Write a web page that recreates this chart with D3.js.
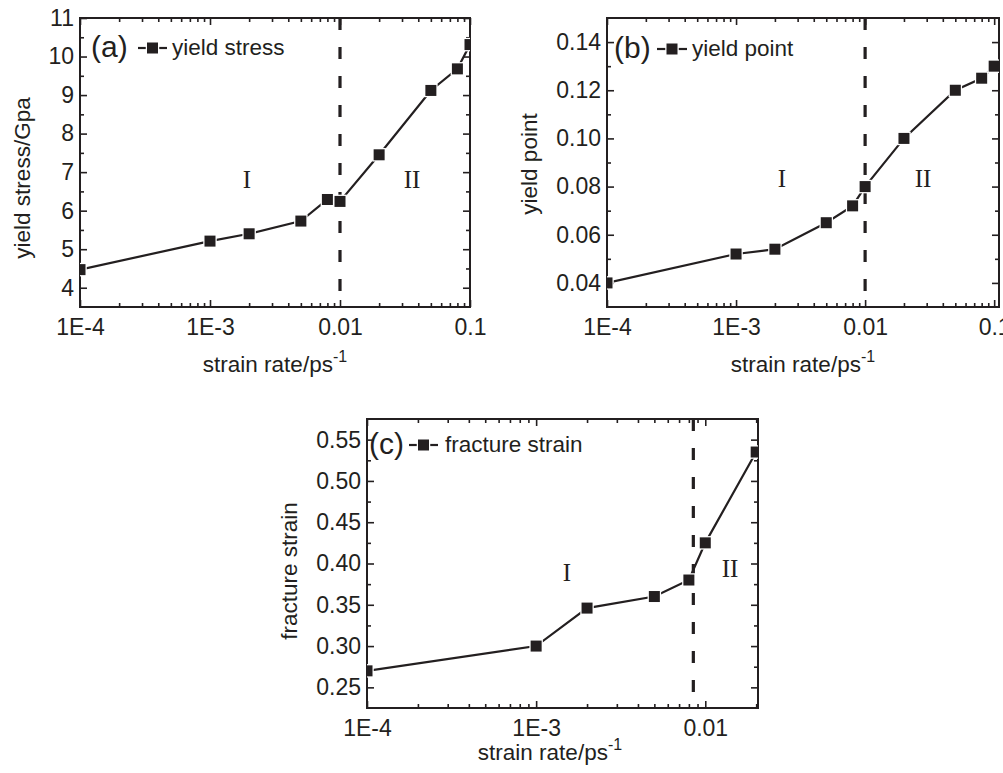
<!DOCTYPE html>
<html>
<head>
<meta charset="utf-8">
<script src="https://cdn.jsdelivr.net/npm/d3@7"></script>
<style>
  body { margin: 0; background: #fff; }
  svg { display: block; }
  text { font-family: "Liberation Sans", Arial, sans-serif; fill: #231f20; }
  .roman { font-family: "Liberation Serif", "Times New Roman", serif; }
</style>
</head>
<body>
<script>
// strain rates (1/ps)
var ratesAB = [1e-4, 1e-3, 2e-3, 5e-3, 8e-3, 0.01, 0.02, 0.05, 0.08, 0.1];
var ratesC = [1e-4, 1e-3, 2e-3, 5e-3, 8e-3, 0.01, 0.02];

// series
var yieldStress = [4.47, 5.21, 5.40, 5.73, 6.29, 6.24, 7.45, 9.12, 9.68, 10.31];
var yieldPoint = [0.040, 0.052, 0.054, 0.065, 0.072, 0.080, 0.100, 0.120, 0.125, 0.130];
var fractureStrain = [0.270, 0.300, 0.346, 0.360, 0.380, 0.425, 0.535];

// tick labels
var xTickVals = [1e-4, 1e-3, 0.01, 0.1];
var xTickText = ["1E-4", "1E-3", "0.01", "0.1"];
var yTicksA = [4, 5, 6, 7, 8, 9, 10, 11];
var yTicksB = [0.04, 0.06, 0.08, 0.10, 0.12, 0.14];
var yTicksC = [0.25, 0.30, 0.35, 0.40, 0.45, 0.50, 0.55];

// region boundaries (vertical dashed line)
var boundaryAB = 0.01;
var boundaryC = 0.0085;

var ink = "#231f20";

var svg = d3.select("body").append("svg")
  .attr("width", 1003)
  .attr("height", 773);

svg.append("rect").attr("width", 1003).attr("height", 773).attr("fill", "#fff");

function minorLog(domain) {
  var out = [];
  for (var e = -5; e <= 0; e++) {
    for (var m = 2; m <= 9; m++) {
      var v = m * Math.pow(10, e);
      if (v >= domain[0] && v <= domain[1] * 1.0001) out.push(v);
    }
  }
  return out;
}

function drawPanel(p) {
  var W = p.right - p.left, H = p.bottom - p.top;
  var g = svg.append("g").attr("transform", "translate(" + p.left + "," + p.top + ")");

  var x = d3.scaleLog().domain(p.xDomain).range([0, W]);
  var y = d3.scaleLinear().domain(p.yDomain).range([H, 0]);

  var clipId = "clip-" + p.tag;
  g.append("clipPath").attr("id", clipId)
    .append("rect").attr("width", W).attr("height", H);

  var majX = xTickVals.filter(function (v) { return v >= p.xDomain[0] && v <= p.xDomain[1] * 1.0001; });
  var minX = minorLog(p.xDomain);
  var minY = [];
  for (var k = 0; k < p.yTicks.length; k++) {
    var v = p.yTicks[k] - p.yStep / 2;
    if (v > p.yDomain[0]) minY.push(v);
  }
  var last = p.yTicks[p.yTicks.length - 1] + p.yStep / 2;
  if (last < p.yDomain[1]) minY.push(last);

  function fmtX(d) { return xTickText[xTickVals.indexOf(d)]; }

  // bottom axis
  g.append("g").attr("transform", "translate(0," + H + ")")
    .call(d3.axisBottom(x).tickValues(majX).tickSize(-7).tickPadding(12).tickFormat(fmtX));
  g.append("g").attr("transform", "translate(0," + H + ")")
    .call(d3.axisBottom(x).tickValues(minX).tickSize(-4).tickFormat(""));
  // top axis
  g.append("g").call(d3.axisTop(x).tickValues(majX).tickSize(-7).tickFormat(""));
  g.append("g").call(d3.axisTop(x).tickValues(minX).tickSize(-4).tickFormat(""));
  // left axis
  g.append("g")
    .call(d3.axisLeft(y).tickValues(p.yTicks).tickSize(-7).tickPadding(6).tickFormat(p.yFmt));
  g.append("g").call(d3.axisLeft(y).tickValues(minY).tickSize(-4).tickFormat(""));
  // right axis
  g.append("g").attr("transform", "translate(" + W + ",0)")
    .call(d3.axisRight(y).tickValues(p.yTicks).tickSize(-7).tickFormat(""));
  g.append("g").attr("transform", "translate(" + W + ",0)")
    .call(d3.axisRight(y).tickValues(minY).tickSize(-4).tickFormat(""));

  g.selectAll(".domain").remove();
  g.selectAll(".tick line").attr("stroke", ink).attr("stroke-width", 1.6);
  g.selectAll(".tick text").attr("font-size", 23).attr("fill", ink)
    .attr("font-family", "Liberation Sans, Arial, sans-serif");

  // dashed boundary
  g.append("line")
    .attr("x1", x(p.boundary)).attr("x2", x(p.boundary))
    .attr("y1", 0).attr("y2", H)
    .attr("stroke", ink).attr("stroke-width", 3.2)
    .attr("stroke-dasharray", "12,17");

  // box
  g.append("rect").attr("width", W).attr("height", H)
    .attr("fill", "none").attr("stroke", ink).attr("stroke-width", 2);

  var pts = p.rates.map(function (r, i) { return { r: r, v: p.values[i] }; });
  var plot = g.append("g").attr("clip-path", "url(#" + clipId + ")");

  plot.append("path").datum(pts)
    .attr("fill", "none").attr("stroke", ink).attr("stroke-width", 2.2)
    .attr("d", d3.line().x(function (d) { return x(d.r); }).y(function (d) { return y(d.v); }));

  var s = 11;
  plot.selectAll("rect.mk").data(pts).enter().append("rect")
    .attr("class", "mk")
    .attr("x", function (d) { return x(d.r) - s / 2; })
    .attr("y", function (d) { return y(d.v) - s / 2; })
    .attr("width", s).attr("height", s)
    .attr("fill", ink).attr("stroke", "#fff").attr("stroke-width", 2.5)
    .attr("paint-order", "stroke");

  // legend
  var lg = p.legend;
  g.append("text").attr("x", lg.x - p.left).attr("y", lg.y - p.top + 9)
    .attr("font-size", 30).text(lg.tag);
  g.append("line").attr("x1", lg.lx1 - p.left).attr("x2", lg.lx2 - p.left)
    .attr("y1", lg.y - p.top).attr("y2", lg.y - p.top)
    .attr("stroke", ink).attr("stroke-width", 2.2);
  g.append("rect").attr("x", (lg.lx1 + lg.lx2) / 2 - p.left - s / 2)
    .attr("y", lg.y - p.top - s / 2).attr("width", s).attr("height", s)
    .attr("fill", ink).attr("stroke", "#fff").attr("stroke-width", 2.5)
    .attr("paint-order", "stroke");
  g.append("text").attr("x", lg.tx - p.left).attr("y", lg.y - p.top + 7)
    .attr("font-size", 22.5).text(lg.label);

  // region labels
  p.romans.forEach(function (r) {
    g.append("text").attr("class", "roman")
      .attr("x", r.x - p.left).attr("y", r.y - p.top)
      .attr("text-anchor", "middle").attr("font-size", 25).text(r.t);
  });

  // axis titles
  var xt = svg.append("text").attr("x", p.xLabelX).attr("y", p.xLabelY)
    .attr("text-anchor", "middle").attr("font-size", 22.5);
  xt.append("tspan").text("strain rate/ps");
  xt.append("tspan").attr("dy", -10).attr("font-size", 16).text("-1");

  svg.append("text")
    .attr("transform", "translate(" + p.yLabelX + "," + p.yLabelY + ") rotate(-90)")
    .attr("text-anchor", "middle").attr("font-size", 22.5).text(p.yLabel);
}

drawPanel({
  tag: "a", left: 80, right: 470, top: 18, bottom: 307,
  xDomain: [1e-4, 0.1], yDomain: [3.5, 11],
  yTicks: yTicksA, yStep: 1, yFmt: d3.format("d"),
  rates: ratesAB, values: yieldStress, boundary: boundaryAB,
  legend: { tag: "(a)", x: 91, y: 48, lx1: 138, lx2: 167, tx: 172, label: "yield stress" },
  romans: [{ t: "I", x: 247, y: 188 }, { t: "II", x: 412, y: 188 }],
  xLabelX: 275, xLabelY: 372, yLabel: "yield stress/Gpa", yLabelX: 30, yLabelY: 178
});

drawPanel({
  tag: "b", left: 607, right: 999, top: 18, bottom: 307,
  xDomain: [1e-4, 0.109], yDomain: [0.03, 0.15],
  yTicks: yTicksB, yStep: 0.02, yFmt: d3.format(".2f"),
  rates: ratesAB, values: yieldPoint, boundary: boundaryAB,
  legend: { tag: "(b)", x: 614, y: 49, lx1: 657, lx2: 687, tx: 692, label: "yield point" },
  romans: [{ t: "I", x: 782, y: 187 }, { t: "II", x: 923, y: 187 }],
  xLabelX: 803, xLabelY: 372, yLabel: "yield point", yLabelX: 537, yLabelY: 164
});

drawPanel({
  tag: "c", left: 367, right: 758, top: 419, bottom: 708,
  xDomain: [1e-4, 0.0205], yDomain: [0.225, 0.575],
  yTicks: yTicksC, yStep: 0.05, yFmt: d3.format(".2f"),
  rates: ratesC, values: fractureStrain, boundary: boundaryC,
  legend: { tag: "(c)", x: 369, y: 445, lx1: 409, lx2: 438, tx: 445, label: "fracture strain" },
  romans: [{ t: "I", x: 567, y: 581 }, { t: "II", x: 730, y: 577 }],
  xLabelX: 550, xLabelY: 760, yLabel: "fracture strain", yLabelX: 297, yLabelY: 571
});
</script>
</body>
</html>
